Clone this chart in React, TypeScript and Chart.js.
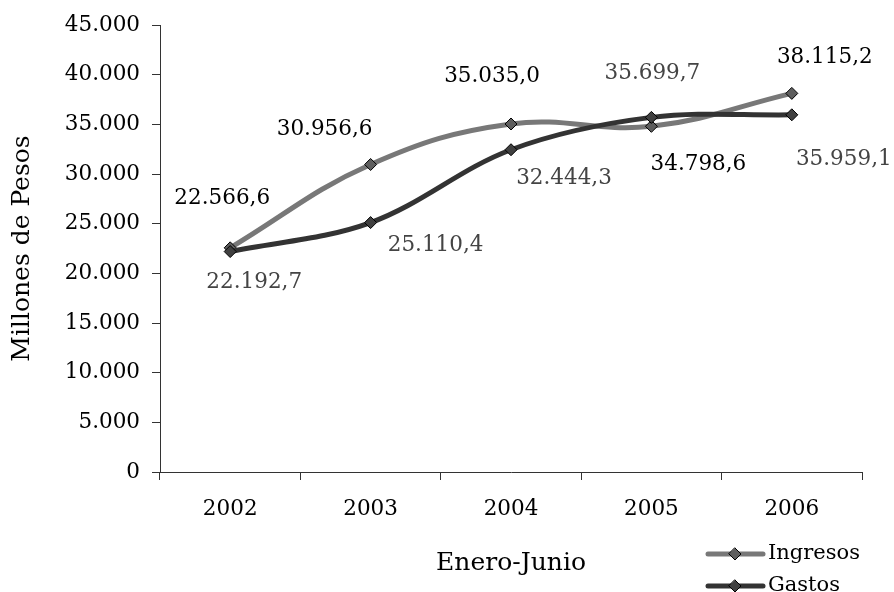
import React, { useEffect, useRef } from "react";
import { Chart, registerables } from "chart.js";

Chart.register(...registerables);

const categories = ["2002", "2003", "2004", "2005", "2006"];
const ingresos = [22566.6, 30956.6, 35035.0, 34798.6, 38115.2];
const gastos = [22192.7, 25110.4, 32444.3, 35699.7, 35959.1];
const yMin = 0;
const yMax = 45000;
const yStep = 5000;
const seriesNames = ["Ingresos", "Gastos"];
const xTitle = "Enero-Junio";
const yTitle = "Millones de Pesos";

// label placement offsets (px) relative to each point
const ingresosLabelOffsets = [[-8, -49], [-46, -35], [-19, -48], [47, 38], [33, -36]];
const gastosLabelOffsets = [[24, 31], [65, 23], [53, 29], [1, -44], [52, 45]];

const FONT = '"DejaVu Serif", serif';

function groupThousands(n: number): string {
  const s = Math.floor(Math.abs(n)).toString();
  return s.replace(/\B(?=(\d{3})+(?!\d))/g, ".");
}
function fmtValue(v: number): string {
  const fixed = v.toFixed(1);
  const [ip, dp] = fixed.split(".");
  return groupThousands(parseInt(ip, 10)) + "," + dp;
}

const colors = {
  ingresosLine: "#787878",
  ingresosPoint: "#5e5e5e",
  gastosLine: "#333333",
  gastosPoint: "#404040",
  ingresosLabel: "#000000",
  gastosLabel: "#444444",
  axis: "#333333",
};

const labelsPlugin = {
  id: "valueLabels",
  afterDatasetsDraw(chart: any) {
    const ctx = chart.ctx;
    ctx.save();
    ctx.font = `21.5px ${FONT}`;
    ctx.textAlign = "center";
    ctx.textBaseline = "middle";
    chart.data.datasets.forEach((ds: any, di: number) => {
      const meta = chart.getDatasetMeta(di);
      const offs = ds._labelOffsets as number[][];
      ctx.fillStyle = ds._labelColor;
      meta.data.forEach((pt: any, i: number) => {
        const v = ds.data[i];
        ctx.fillText(fmtValue(v), pt.x + offs[i][0], pt.y + offs[i][1]);
      });
    });
    ctx.restore();
  },
};

const legendPlugin = {
  id: "customLegend",
  afterDraw(chart: any) {
    const ctx = chart.ctx;
    const items = [
      { name: seriesNames[0], line: colors.ingresosLine, point: colors.ingresosPoint, y: 554 },
      { name: seriesNames[1], line: colors.gastosLine, point: colors.gastosPoint, y: 586 },
    ];
    ctx.save();
    items.forEach((it) => {
      ctx.strokeStyle = it.line;
      ctx.lineWidth = 5;
      ctx.lineCap = "round";
      ctx.beginPath();
      ctx.moveTo(708, it.y);
      ctx.lineTo(763, it.y);
      ctx.stroke();
      const cx = 735;
      const r = 6;
      ctx.beginPath();
      ctx.moveTo(cx, it.y - r);
      ctx.lineTo(cx + r, it.y);
      ctx.lineTo(cx, it.y + r);
      ctx.lineTo(cx - r, it.y);
      ctx.closePath();
      ctx.fillStyle = it.point;
      ctx.fill();
      ctx.lineWidth = 1;
      ctx.strokeStyle = "#000";
      ctx.stroke();
      ctx.fillStyle = "#000";
      ctx.font = `21px ${FONT}`;
      ctx.textAlign = "left";
      ctx.textBaseline = "middle";
      ctx.fillText(it.name, 768, it.y);
    });
    ctx.restore();
  },
};

export default function App() {
  const ref = useRef<HTMLCanvasElement | null>(null);
  useEffect(() => {
    if (!ref.current) return;
    const chart = new Chart(ref.current, {
      type: "line",
      data: {
        labels: categories,
        datasets: [
          {
            label: seriesNames[0],
            data: ingresos,
            borderColor: colors.ingresosLine,
            backgroundColor: colors.ingresosPoint,
            borderWidth: 5,
            tension: 0.4,
            pointStyle: "rectRot",
            pointRadius: 6,
            pointBorderColor: "#000",
            pointBorderWidth: 1,
            pointBackgroundColor: colors.ingresosPoint,
            order: 2,
            _labelOffsets: ingresosLabelOffsets,
            _labelColor: colors.ingresosLabel,
          } as any,
          {
            label: seriesNames[1],
            data: gastos,
            borderColor: colors.gastosLine,
            backgroundColor: colors.gastosPoint,
            borderWidth: 5,
            tension: 0.35,
            pointStyle: "rectRot",
            pointRadius: 6,
            pointBorderColor: "#000",
            pointBorderWidth: 1,
            pointBackgroundColor: colors.gastosPoint,
            order: 1,
            _labelOffsets: gastosLabelOffsets,
            _labelColor: colors.gastosLabel,
          } as any,
        ],
      },
      options: {
        responsive: false,
        animation: false,
        layout: { padding: { top: 25, right: 32, left: 0, bottom: 0 } },
        plugins: {
          legend: { display: false },
          tooltip: { enabled: false },
        },
        scales: {
          x: {
            type: "category",
            offset: true,
            grid: {
              offset: true,
              drawOnChartArea: false,
              drawTicks: true,
              tickLength: 8,
              color: colors.axis,
            },
            border: { color: colors.axis, width: 1 },
            ticks: {
              color: "#000",
              font: { family: FONT, size: 21.5 },
              padding: 17,
              maxRotation: 0,
            },
            title: {
              display: true,
              text: xTitle,
              color: "#000",
              font: { family: FONT, size: 25 },
              padding: { top: 0, bottom: 14 },
            },
            afterFit(scale: any) {
              scale.height = 120;
            },
          },
          y: {
            min: yMin,
            max: yMax,
            grid: {
              drawOnChartArea: false,
              drawTicks: true,
              tickLength: 8,
              color: colors.axis,
            },
            border: { color: colors.axis, width: 1 },
            ticks: {
              stepSize: yStep,
              color: "#000",
              font: { family: FONT, size: 21.5 },
              padding: 12,
              callback: (v: any) => groupThousands(Number(v)),
            },
            title: {
              display: true,
              text: yTitle,
              color: "#000",
              font: { family: FONT, size: 25 },
              padding: { top: 7, bottom: 0 },
            },
            afterFit(scale: any) {
              scale.width = 160;
            },
          },
        },
      },
      plugins: [labelsPlugin, legendPlugin],
    });
    return () => chart.destroy();
  }, []);
  return (
    <div style={{ position: "fixed", left: 0, top: 0, width: 894, height: 592 }}>
      <canvas ref={ref} width={894} height={592} style={{ width: 894, height: 592 }} />
    </div>
  );
}
